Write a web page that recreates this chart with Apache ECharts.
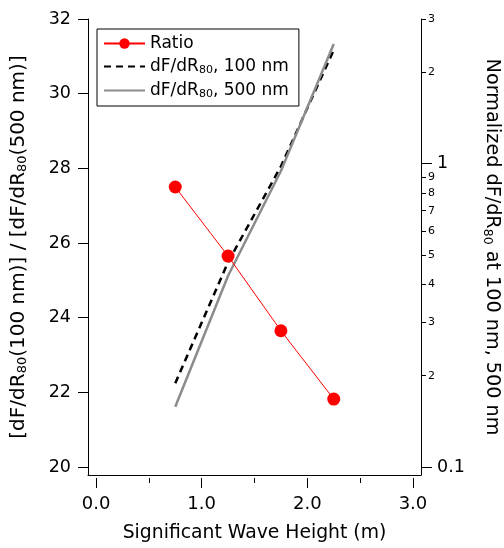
<!DOCTYPE html>
<html>
<head>
<meta charset="utf-8">
<script src="https://cdn.jsdelivr.net/npm/echarts@6/dist/echarts.min.js"></script>
<style>
  html, body { margin: 0; padding: 0; background: #fff; }
  #chart { width: 504px; height: 548px; }
</style>
</head>
<body>
<div id="chart"></div>
<script>
  // wave height (m)
  const waveHeight = [0.75, 1.25, 1.75, 2.25];
  // ratio, left axis
  const ratio = [27.5, 25.65, 23.65, 21.82];
  // normalized dF/dR80, right (log) axis
  const norm100 = [0.189, 0.474, 0.98, 2.37];
  const norm500 = [0.158, 0.427, 0.946, 2.48];

  const leftTicks = [20, 22, 24, 26, 28, 30, 32];
  const rightMajor = [0.1, 1];
  const rightMinor = [0.2, 0.3, 0.4, 0.5, 0.6, 0.7, 0.8, 0.9, 2, 3];
  const xMajor = [0, 1, 2, 3];
  const xMinor = [0.5, 1.5, 2.5];

  const font = "DejaVu Sans";
  const sub = { fontSize: 11, fontFamily: font, padding: [8, 0, 0, 0] };
  const subName = n => n.replace(/dR80/g, "dR{sub|80}");
  const pairs = ys => waveHeight.map((x, i) => [x, ys[i]]);

  const chart = echarts.init(document.getElementById("chart"));

  const xBase = { type: "value", min: -0.076, max: 3.076, splitLine: { show: false } };
  const rightBase = { type: "log", logBase: 10, min: 0.0941, max: 3, position: "right", splitLine: { show: false } };

  const option = {
    animation: false,
    grid: { left: 88, right: 83, top: 19, bottom: 73, outerBoundsMode: "none" },
    legend: {
      orient: "vertical",
      left: 97,
      top: 29,
      padding: [6, 10, 6, 6],
      itemWidth: 41,
      itemHeight: 13,
      itemGap: 6,
      borderColor: "#000",
      borderWidth: 1,
      data: [
        { name: "Ratio" },
        { name: "dF/dR80, 100 nm", itemStyle: { opacity: 0 } },
        { name: "dF/dR80, 500 nm", itemStyle: { opacity: 0 } }
      ],
      formatter: subName,
      textStyle: { fontSize: 17, fontFamily: font, color: "#000", rich: { sub } }
    },
    xAxis: [
      Object.assign({}, xBase, {
        axisLine: { onZero: false, lineStyle: { color: "#000", width: 1 } },
        axisTick: { show: false },
        axisLabel: { show: false },
        name: "Significant Wave Height (m)",
        nameLocation: "middle",
        nameGap: 49,
        nameTextStyle: { fontSize: 18.8, fontFamily: font, color: "#000" }
      }),
      Object.assign({}, xBase, {
        position: "bottom",
        offset: 3,
        axisLine: { show: false, onZero: false },
        axisTick: { customValues: xMajor, length: 10, lineStyle: { color: "#000" } },
        axisLabel: {
          customValues: xMajor, margin: 17, fontSize: 18, fontFamily: font, color: "#000",
          formatter: v => v.toFixed(1)
        }
      }),
      Object.assign({}, xBase, {
        position: "bottom",
        offset: 3,
        axisLine: { show: false, onZero: false },
        axisTick: { customValues: xMinor, length: 5, lineStyle: { color: "#000" } },
        axisLabel: { show: false }
      })
    ],
    yAxis: [
      {
        type: "value",
        min: 19.786,
        max: 32,
        position: "left",
        splitLine: { show: false },
        axisLine: { show: true, onZero: false, lineStyle: { color: "#000" } },
        axisTick: { customValues: leftTicks, length: 10, lineStyle: { color: "#000" } },
        axisLabel: { customValues: leftTicks, margin: 17, fontSize: 17.5, fontFamily: font, color: "#000" },
        name: subName("[dF/dR80(100 nm)] / [dF/dR80(500 nm)]"),
        nameLocation: "middle",
        nameGap: 59,
        nameTextStyle: { fontSize: 20, fontFamily: font, color: "#000", rich: { sub: Object.assign({}, sub, { fontSize: 13 }) } }
      },
      Object.assign({}, rightBase, {
        axisLine: { show: true, onZero: false, lineStyle: { color: "#000" } },
        axisTick: { customValues: rightMinor, length: 5, lineStyle: { color: "#000" } },
        axisLabel: {
          customValues: rightMinor, margin: 7, fontSize: 11, fontFamily: font, color: "#000",
          formatter: v => (v < 1 ? String(Math.round(v * 10)) : String(v))
        },
        name: subName("Normalized dF/dR80 at 100 nm, 500 nm"),
        nameLocation: "middle",
        nameRotate: -90,
        nameGap: 60,
        nameTextStyle: { fontSize: 19.2, fontFamily: font, color: "#000", rich: { sub: Object.assign({}, sub, { fontSize: 12.5 }) } }
      }),
      Object.assign({}, rightBase, {
        axisLine: { show: false, onZero: false },
        axisTick: { customValues: rightMajor, length: 11, lineStyle: { color: "#000" } },
        axisLabel: { customValues: rightMajor, margin: 16, fontSize: 17.5, fontFamily: font, color: "#000" }
      })
    ],
    series: [
      {
        name: "Ratio",
        type: "line",
        xAxisIndex: 0,
        yAxisIndex: 0,
        data: pairs(ratio),
        symbol: "circle",
        symbolSize: 13,
        itemStyle: { color: "#ff0000" },
        lineStyle: { color: "#ff0000", width: 1 },
        z: 5
      },
      {
        name: "dF/dR80, 100 nm",
        type: "line",
        xAxisIndex: 0,
        yAxisIndex: 1,
        data: pairs(norm100),
        symbol: "none",
        itemStyle: { color: "#000" },
        lineStyle: { color: "#000", width: 2.5, type: [7, 5] },
        z: 3
      },
      {
        name: "dF/dR80, 500 nm",
        type: "line",
        xAxisIndex: 0,
        yAxisIndex: 1,
        data: pairs(norm500),
        symbol: "none",
        itemStyle: { color: "#8c8c8c" },
        lineStyle: { color: "#8c8c8c", width: 2.5 },
        z: 4
      }
    ]
  };

  chart.setOption(option);
</script>
</body>
</html>
